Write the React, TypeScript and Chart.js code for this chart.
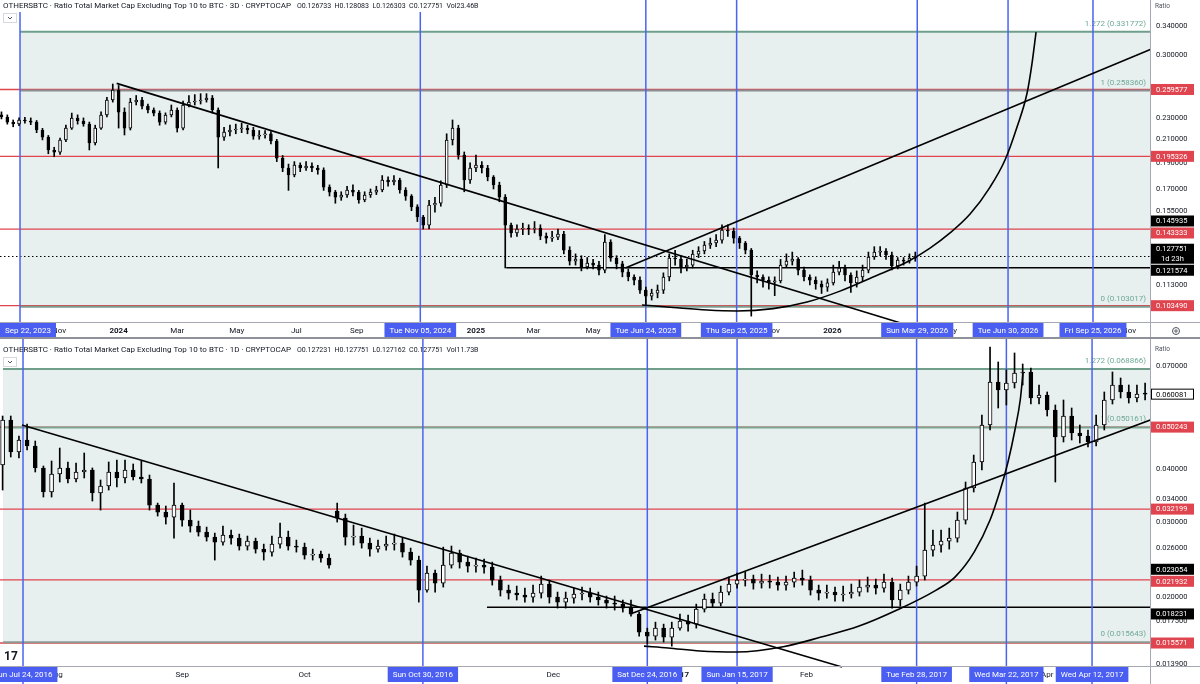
import React, { useEffect, useRef } from "react";
import { Chart, registerables } from "chart.js";

Chart.register(...registerables);

const FONT = "Roboto, 'Liberation Sans', Arial, sans-serif";
const INK = "#131722";
const RED = "#e0444e";
const BLUE_LINE = "#4b63f2";
const BLUE_TAG = "#4a5ff2";
const FIB_FILL = "#e7f0ee";
const FIB_TEXT = "#6fa996";

// ---------------- TOP PANEL (3D candles, x = days since 2024-01-01) ----------------
const TOP_TITLE = "OTHERSBTC · Ratio Total Market Cap Excluding Top 10 to BTC · 3D · CRYPTOCAP";
const TOP_OHLC = "O0.126733  H0.128083  L0.126303  C0.127751  Vol23.46B";
const TOP_FIRST_BAR_DAY = -120;
const TOP_BAR_DAYS = 6;
const topOpen = [
  .2330,.2309,.2260,.2241,.2280,.2270,.2260,.2185,.2120,.2007,
  .1989,.2094,.2203,.2299,.2270,.2241,.2067,.2203,.2329,.2482,
  .2590,.2358,.2203,.2461,.2482,.2419,.2379,.2348,.2260,.2329,
  .2379,.2203,.2430,.2461,.2472,.2482,.2503,.2379,.2120,.2166,
  .2185,.2194,.2203,.2185,.2129,.2139,.2150,.2085,.1939,.1859,
  .1804,.1882,.1859,.1874,.1859,.1843,.1714,.1678,.1642,.1657,
  .1693,.1678,.1622,.1657,.1678,.1693,.1766,.1751,.1766,.1693,
  .1649,.1575,.1509,.1458,.1588,.1600,.1729,.2094,.2203,.1964,
  .1766,.1859,.1882,.1859,.1789,.1729,.1642,.1458,.1410,.1434,
  .1440,.1434,.1440,.1391,.1379,.1385,.1404,.1311,.1251,.1262,
  .1220,.1241,.1230,.1204,.1357,.1267,.1236,.1194,.1169,.1154,
  .1106,.1078,.1092,.1106,.1169,.1267,.1262,.1220,.1230,.1289,
  .1306,.1339,.1351,.1368,.1428,.1422,.1379,.1351,.1311,.1179,
  .1169,.1154,.1144,.1150,.1230,.1251,.1262,.1204,.1169,.1154,
  .1135,.1120,.1140,.1194,.1215,.1179,.1140,.1169,.1204,.1273,
  .1300,.1306,.1284,.1225,.1257,.1251,.1267,
];
const topHigh = [
  .2360,.2330,.2280,.2300,.2305,.2300,.2275,.2200,.2135,.2030,
  .2110,.2230,.2348,.2330,.2300,.2260,.2230,.2360,.2510,.2657,
  .2640,.2400,.2500,.2530,.2510,.2440,.2400,.2370,.2350,.2430,
  .2400,.2470,.2530,.2540,.2550,.2550,.2530,.2400,.2210,.2230,
  .2240,.2250,.2230,.2210,.2180,.2180,.2170,.2100,.1960,.1890,
  .1910,.1900,.1910,.1900,.1880,.1860,.1730,.1690,.1680,.1720,
  .1730,.1690,.1680,.1700,.1720,.1800,.1790,.1800,.1780,.1710,
  .1660,.1590,.1520,.1620,.1640,.1760,.2150,.2280,.2230,.1990,
  .1900,.1964,.1910,.1880,.1800,.1750,.1660,.1470,.1460,.1470,
  .1460,.1480,.1460,.1410,.1420,.1434,.1420,.1330,.1290,.1280,
  .1270,.1260,.1250,.1400,.1370,.1280,.1250,.1210,.1180,.1170,
  .1120,.1110,.1130,.1190,.1290,.1310,.1280,.1260,.1310,.1330,
  .1360,.1380,.1400,.1460,.1460,.1440,.1390,.1360,.1320,.1200,
  .1180,.1170,.1170,.1260,.1290,.1300,.1270,.1220,.1180,.1170,
  .1150,.1160,.1230,.1250,.1230,.1190,.1200,.1230,.1300,.1330,
  .1330,.1320,.1300,.1270,.1270,.1290,.1300,
];
const topLow = [
  .2290,.2240,.2215,.2225,.2250,.2235,.2160,.2095,.1975,.1950,
  .1970,.2080,.2190,.2240,.2220,.2007,.2050,.2190,.2310,.2460,
  .2203,.2139,.2185,.2430,.2390,.2350,.2320,.2230,.2240,.2310,
  .2166,.2185,.2410,.2430,.2440,.2460,.2348,.1859,.2090,.2130,
  .2150,.2160,.2150,.2100,.2100,.2110,.2060,.1910,.1830,.1690,
  .1790,.1830,.1840,.1830,.1810,.1690,.1650,.1600,.1620,.1640,
  .1650,.1600,.1610,.1640,.1660,.1680,.1720,.1730,.1670,.1620,
  .1550,.1480,.1434,.1434,.1540,.1580,.1710,.2050,.1930,.1680,
  .1740,.1830,.1820,.1760,.1700,.1610,.1215,.1385,.1390,.1400,
  .1400,.1410,.1370,.1350,.1360,.1370,.1290,.1230,.1230,.1200,
  .1210,.1210,.1180,.1190,.1250,.1210,.1170,.1150,.1130,.1090,
  .1040,.1060,.1070,.1090,.1150,.1230,.1190,.1200,.1215,.1270,
  .1290,.1320,.1330,.1350,.1390,.1350,.1320,.1290,.0990,.1140,
  .1120,.1110,.1080,.1140,.1220,.1230,.1180,.1150,.1130,.1110,
  .1090,.1100,.1130,.1180,.1150,.1095,.1120,.1150,.1190,.1260,
  .1280,.1260,.1205,.1210,.1230,.1240,.1250,
];
const topClose = [
  .2309,.2260,.2241,.2280,.2270,.2260,.2185,.2120,.2007,.1989,
  .2094,.2203,.2299,.2270,.2241,.2067,.2203,.2329,.2482,.2590,
  .2358,.2203,.2461,.2482,.2419,.2379,.2348,.2260,.2329,.2379,
  .2203,.2430,.2461,.2472,.2482,.2503,.2379,.2120,.2166,.2185,
  .2194,.2203,.2185,.2129,.2139,.2150,.2085,.1939,.1859,.1804,
  .1882,.1859,.1874,.1859,.1843,.1714,.1678,.1642,.1657,.1693,
  .1678,.1622,.1657,.1678,.1693,.1766,.1751,.1766,.1693,.1649,
  .1575,.1509,.1458,.1588,.1600,.1729,.2094,.2203,.1964,.1766,
  .1859,.1882,.1859,.1789,.1729,.1642,.1458,.1410,.1434,.1440,
  .1434,.1440,.1391,.1379,.1385,.1404,.1311,.1251,.1262,.1220,
  .1241,.1230,.1204,.1357,.1267,.1236,.1194,.1169,.1154,.1106,
  .1078,.1092,.1106,.1169,.1267,.1262,.1220,.1230,.1289,.1306,
  .1339,.1351,.1368,.1428,.1422,.1379,.1351,.1311,.1179,.1169,
  .1154,.1144,.1150,.1230,.1251,.1262,.1204,.1169,.1154,.1135,
  .1120,.1140,.1194,.1215,.1179,.1140,.1169,.1204,.1273,.1300,
  .1306,.1284,.1225,.1257,.1251,.1267,.1278,
];
const topTickDays = [-61, 0, 60, 121, 182, 244, 305, 366, 425, 486, 547, 609, 670, 731, 790, 851, 912, 974, 1035];
const topTickLabels = ["Nov", "2024", "Mar", "May", "Jul", "Sep", "Nov", "2025", "Mar", "May", "Jul", "Sep", "Nov", "2026", "Mar", "May", "Jul", "Sep", "Nov"];
const topPriceTicks = [0.34, 0.3, 0.23, 0.21, 0.19, 0.17, 0.155, 0.14, 0.113];
const topMarkerDays = [-101, 309, 540, 633, 818, 911, 998];
const topMarkerLabels = ["Sep 22, 2023", "Tue Nov 05, 2024", "Tue Jun 24, 2025", "Thu Sep 25, 2025", "Sun Mar 29, 2026", "Tue Jun 30, 2026", "Fri Sep 25, 2026"];
const topFibLevels = [0.331772, 0.25836, 0.103017];
const topFibLabels = ["1.272 (0.331772)", "1 (0.258360)", "0 (0.103017)"];
const topFibColors = ["#6f9f8b", "#8a8d92", "#7d9b8f"];
const TOP_FIB_START_DAY = -101;
const topRedLevels = [0.259577, 0.195326, 0.143333, 0.10349];
const TOP_SUPPORT = 0.121574;
const TOP_SUPPORT_START_DAY = 397;
const TOP_LAST_PRICE = 0.127751;
const topDownTrend: [number, number][] = [[-2, 0.2664], [801, 0.0961]];
const topUpTrend: [number, number][] = [[519, 0.1215], [1060, 0.3095]];
const topArcDays = [536.1, 567.9, 602.7, 633.4, 670.3, 705.1, 738.9, 772.7, 807.5, 831.1, 851.6, 872.1, 892.6, 907.9, 920.2, 930.5, 935.6, 939.7];
const topArcValues = [0.1038, 0.1027, 0.1016, 0.1012, 0.1022, 0.1051, 0.1101, 0.1169, 0.1246, 0.1322, 0.141, 0.1528, 0.1714, 0.1923, 0.2213, 0.2557, 0.2905, 0.3314];
const topTagValues = [0.259577, 0.195326, 0.145935, 0.143333, 0.127751, 0.121574, 0.10349];
const topTagKinds = ["red", "red", "black", "red", "black", "black", "red"];
const topTagSubs = ["", "", "", "", "1d 23h", "", ""];

// ---------------- BOTTOM PANEL (1D candles shown as 2-day bars, x = days since 2016-07-24) ----------------
const BOT_TITLE = "OTHERSBTC · Ratio Total Market Cap Excluding Top 10 to BTC · 1D · CRYPTOCAP";
const BOT_OHLC = "O0.127231  H0.127751  L0.127162  C0.127751  Vol11.73B";
const BOT_FIRST_BAR_DAY = -5;
const BOT_BAR_DAYS = 2;
const botOpen = [
  .04091,.05222,.04390,.04685,.04534,.04025,.03533,.03896,.04025,.03791,
  .03938,.03981,.03514,.03650,.03938,.03812,.03981,.03833,.03791,.03291,
  .03169,.03084,.03291,.03034,.02937,.02843,.02767,.02692,.02797,.02751,
  .02635,.02707,.02592,.02550,.02663,.02767,.02635,.02620,.02509,.02523,
  .02468,.03186,.03067,.02767,.02782,.02678,.02592,.02635,.02663,.02678,
  .02550,.02442,.02075,.02275,.02155,.02376,.02536,.02415,.02363,.02376,
  .02351,.02191,.02075,.02042,.02020,.01998,.02042,.02144,.01998,.01944,
  .01987,.02031,.02042,.01998,.01966,.01934,.01923,.01892,.01822,.01652,
  .01616,.01688,.01608,.01688,.01754,.01725,.01872,.01976,.01934,.02053,
  .02144,.02191,.02203,.02155,.02179,.02167,.02132,.02167,.02215,.02191,
  .02075,.02042,.02053,.02020,.02031,.02053,.02109,.02132,.02098,.02167,
  .01966,.02075,.02167,.02239,.02578,.02649,.02707,.02751,.03034,.03610,
  .04158,.05082,.06418,.06145,.06383,.06739,.06776,.05884,.05981,.05513,
  .04761,.05336,.04866,.04787,.04634,.05082,.05820,.06314,.06079,.05884,
  .06013,
];
const botHigh = [
  .05336,.05336,.04787,.05110,.04659,.04068,.04180,.04485,.04158,.04135,
  .04366,.04025,.03771,.04158,.04203,.04203,.04113,.04180,.03874,.03327,
  .03274,.03710,.03327,.03203,.03018,.02921,.02827,.02937,.02874,.02812,
  .02782,.02751,.02663,.02782,.02985,.02858,.02722,.02678,.02592,.02564,
  .02523,.03327,.03134,.02953,.02905,.02751,.02722,.02782,.02812,.02751,
  .02606,.02495,.02363,.02313,.02620,.02635,.02578,.02495,.02468,.02455,
  .02415,.02239,.02132,.02121,.02098,.02132,.02239,.02191,.02053,.02053,
  .02098,.02109,.02098,.02053,.02009,.02009,.01966,.01966,.01842,.01688,
  .01744,.01725,.01744,.01822,.01812,.01923,.02031,.02042,.02121,.02227,
  .02275,.02288,.02251,.02263,.02251,.02227,.02239,.02288,.02313,.02239,
  .02132,.02132,.02109,.02121,.02144,.02191,.02227,.02203,.02263,.02215,
  .02144,.02239,.02363,.03327,.02874,.02874,.02905,.03169,.03730,.04318,
  .05365,.07760,.07154,.06850,.07512,.07076,.06924,.06314,.06079,.05665,
  .05820,.05573,.05082,.04946,.05365,.06079,.06776,.06559,.06314,.06314,
  .06383,
];
const botLow = [
  .03571,.04272,.04249,.04438,.03938,.03438,.03438,.03730,.03710,.03730,
  .03812,.03364,.03203,.03571,.03630,.03710,.03771,.03710,.03203,.03101,
  .02969,.02751,.02937,.02843,.02782,.02707,.02442,.02649,.02663,.02578,
  .02578,.02536,.02442,.02495,.02606,.02578,.02550,.02455,.02442,.02415,
  .02338,.03001,.02649,.02649,.02606,.02495,.02550,.02578,.02578,.02482,
  .02376,.01944,.02053,.02053,.02109,.02338,.02338,.02288,.02288,.02275,
  .02132,.02009,.01976,.01966,.01944,.01944,.01987,.01934,.01882,.01882,
  .01934,.01966,.01944,.01913,.01882,.01862,.01842,.01802,.01616,.01548,
  .01582,.01565,.01531,.01670,.01661,.01688,.01842,.01892,.01903,.02020,
  .02098,.02121,.02086,.02098,.02098,.02075,.02075,.02109,.02132,.02020,
  .01966,.01987,.01955,.01955,.01987,.02009,.02053,.02031,.02053,.01882,
  .01903,.02031,.02121,.02191,.02495,.02550,.02592,.02692,.02969,.03533,
  .03981,.04946,.05573,.05665,.06212,.06314,.05695,.05695,.05336,.03730,
  .04634,.04685,.04609,.04510,.04534,.04946,.05695,.05884,.05726,.05758,
  .05820,
];
const botClose = [
  .05222,.04390,.04685,.04534,.04025,.03533,.03896,.04025,.03791,.03938,
  .03981,.03514,.03650,.03938,.03812,.03981,.03833,.03791,.03291,.03169,
  .03084,.03291,.03034,.02937,.02843,.02767,.02692,.02797,.02751,.02635,
  .02707,.02592,.02550,.02663,.02767,.02635,.02620,.02509,.02523,.02468,
  .02376,.03067,.02767,.02782,.02678,.02592,.02635,.02663,.02678,.02550,
  .02442,.02075,.02275,.02155,.02376,.02536,.02415,.02363,.02376,.02351,
  .02191,.02075,.02042,.02020,.01998,.02042,.02144,.01998,.01944,.01987,
  .02031,.02042,.01998,.01966,.01934,.01923,.01882,.01822,.01652,.01616,
  .01688,.01608,.01688,.01754,.01725,.01872,.01976,.01934,.02053,.02144,
  .02191,.02203,.02155,.02179,.02167,.02132,.02167,.02215,.02191,.02075,
  .02042,.02053,.02020,.02031,.02053,.02109,.02132,.02098,.02167,.01966,
  .02075,.02167,.02239,.02578,.02649,.02707,.02751,.03034,.03610,.04158,
  .05082,.06418,.06145,.06383,.06739,.06776,.05884,.05981,.05513,.04761,
  .05336,.04866,.04787,.04634,.05082,.05820,.06314,.06079,.05884,.06013,
  .06008,
];
const botTickDays = [8, 39, 69, 100, 130, 161, 192, 220, 251];
const botTickLabels = ["Aug", "Sep", "Oct", "Nov", "Dec", "2017", "Feb", "Mar", "Apr"];
const botPriceTicks = [0.07, 0.04, 0.034, 0.03, 0.026, 0.02, 0.0175, 0.0139];
const botMarkerDays = [0, 98, 153, 175, 219, 241, 262];
const botMarkerLabels = ["Sun Jul 24, 2016", "Sun Oct 30, 2016", "Sat Dec 24, 2016", "Sun Jan 15, 2017", "Tue Feb 28, 2017", "Wed Mar 22, 2017", "Wed Apr 12, 2017"];
const botFibLevels = [0.068866, 0.050161, 0.015643];
const botFibLabels = ["1.272 (0.068866)", "1 (0.050161)", "0 (0.015643)"];
const botFibColors = ["#6f9f8b", "#7aa590", "#8c9a95"];
const BOT_FIB_START_DAY = -4.9;
const botRedLevels = [0.050243, 0.032199, 0.021932, 0.015571];
const BOT_SUPPORT = 0.0189;
const BOT_SUPPORT_START_DAY = 113.7;
const botDownTrend: [number, number][] = [[-0.25, 0.05082], [200.7, 0.01367]];
const botUpTrend: [number, number][] = [[149.5, 0.01832], [276.5, 0.0523]];
const botArcDays = [152.2, 158.1, 165.9, 175.0, 186.3, 195.6, 204.9, 214.2, 223.8, 228.4, 233.1, 237.0, 239.5, 241.4, 243.1, 244.4, 245.1];
const botArcValues = [0.01531, 0.01516, 0.01491, 0.01483, 0.01526, 0.01608, 0.01707, 0.01862, 0.02075, 0.02227, 0.0255, 0.03034, 0.03571, 0.04158, 0.04946, 0.0582, 0.06776];
const botTagValues = [0.060081, 0.050243, 0.032199, 0.023054, 0.021932, 0.018231, 0.015571];
const botTagKinds = ["last", "red", "red", "black", "red", "black", "red"];
const botTagSubs = ["", "", "", "", "", "", ""];

type Panel = {
  title: string; ohlc: string; titleY: number; chevronY: number; ratioY: number; headerBg: boolean;
  firstBarDay: number; barDays: number;
  open: number[]; high: number[]; low: number[]; close: number[];
  xMin: number; xMax: number; yMin: number; yMax: number;
  tickDays: number[]; tickLabels: string[]; priceTicks: number[];
  markerDays: number[]; markerLabels: string[]; clampMarker: boolean;
  fibStart: number; fibLevels: number[]; fibLabels: string[]; fibColors: string[];
  redLevels: number[]; support: number; supportStart: number; lastPrice: number | null;
  trends: [number, number][][]; arcDays: number[]; arcValues: number[];
  tagValues: number[]; tagKinds: string[]; tagSubs: string[];
  bodyWidth: number; padTop: number; axisH: number; bottomRule: boolean; logo: boolean; gear: boolean;
};

const TOP: Panel = {
  title: TOP_TITLE, ohlc: TOP_OHLC, titleY: 6, chevronY: 13, ratioY: 6, headerBg: true,
  firstBarDay: TOP_FIRST_BAR_DAY, barDays: TOP_BAR_DAYS,
  open: topOpen, high: topHigh, low: topLow, close: topClose,
  xMin: -121.5, xMax: 1056.4, yMin: 0.09655, yMax: 0.3798,
  tickDays: topTickDays, tickLabels: topTickLabels, priceTicks: topPriceTicks,
  markerDays: topMarkerDays, markerLabels: topMarkerLabels, clampMarker: true,
  fibStart: TOP_FIB_START_DAY, fibLevels: topFibLevels, fibLabels: topFibLabels, fibColors: topFibColors,
  redLevels: topRedLevels, support: TOP_SUPPORT, supportStart: TOP_SUPPORT_START_DAY, lastPrice: TOP_LAST_PRICE,
  trends: [topDownTrend, topUpTrend], arcDays: topArcDays, arcValues: topArcValues,
  tagValues: topTagValues, tagKinds: topTagKinds, tagSubs: topTagSubs,
  bodyWidth: 3, padTop: 0, axisH: 17, bottomRule: true, logo: false, gear: true,
};

const BOT: Panel = {
  title: BOT_TITLE, ohlc: BOT_OHLC, titleY: 11, chevronY: 18, ratioY: 10, headerBg: false,
  firstBarDay: BOT_FIRST_BAR_DAY, barDays: BOT_BAR_DAYS,
  open: botOpen, high: botHigh, low: botLow, close: botClose,
  xMin: -5.64, xMax: 276.2, yMin: 0.013745, yMax: 0.0806,
  tickDays: botTickDays, tickLabels: botTickLabels, priceTicks: botPriceTicks,
  markerDays: botMarkerDays, markerLabels: botMarkerLabels, clampMarker: false,
  fibStart: BOT_FIB_START_DAY, fibLevels: botFibLevels, fibLabels: botFibLabels, fibColors: botFibColors,
  redLevels: botRedLevels, support: BOT_SUPPORT, supportStart: BOT_SUPPORT_START_DAY, lastPrice: null,
  trends: [botDownTrend, botUpTrend], arcDays: botArcDays, arcValues: botArcValues,
  tagValues: botTagValues, tagKinds: botTagKinds, tagSubs: botTagSubs,
  bodyWidth: 4, padTop: 1, axisH: 18, bottomRule: false, logo: true, gear: false,
};

function hline(ctx: CanvasRenderingContext2D, x1: number, x2: number, y: number, color: string, w: number) {
  ctx.beginPath();
  ctx.strokeStyle = color;
  ctx.lineWidth = w;
  ctx.moveTo(x1, y);
  ctx.lineTo(x2, y);
  ctx.stroke();
}

function makePlugin(p: Panel) {
  return {
    id: "panelDecor",
    beforeDatasetsDraw(chart: any) {
      const { ctx, chartArea: a } = chart;
      const X = (d: number) => chart.scales.x.getPixelForValue(d);
      const Y = (v: number) => chart.scales.y.getPixelForValue(v);
      ctx.save();
      const fx = Math.max(a.left, X(p.fibStart));
      const fTop = Y(p.fibLevels[0]);
      const fBot = Y(p.fibLevels[p.fibLevels.length - 1]);
      ctx.fillStyle = FIB_FILL;
      ctx.fillRect(fx, fTop, a.right - fx, fBot - fTop);
      p.redLevels.forEach((v) => hline(ctx, a.left, a.right, Y(v), RED, 1.3));
      p.fibLevels.forEach((v, i) => hline(ctx, fx, a.right, Y(v), p.fibColors[i], 2));
      ctx.font = `8px ${FONT}`;
      ctx.textAlign = "right";
      ctx.textBaseline = "middle";
      ctx.fillStyle = FIB_TEXT;
      p.fibLevels.forEach((v, i) => ctx.fillText(p.fibLabels[i], a.right - 4, Y(v) - 8));
      hline(ctx, X(p.supportStart), a.right, Y(p.support), "#000", 1.6);
      if (p.lastPrice !== null) {
        ctx.setLineDash([1.5, 2.5]);
        hline(ctx, a.left, a.right, Math.round(Y(p.lastPrice)) + 0.5, "#000", 1);
        ctx.setLineDash([]);
      }
      ctx.strokeStyle = BLUE_LINE;
      ctx.lineWidth = 1.5;
      p.markerDays.forEach((d) => {
        const x = X(d);
        ctx.beginPath();
        ctx.moveTo(x, 0);
        ctx.lineTo(x, chart.height);
        ctx.stroke();
      });
      ctx.restore();
    },
    afterDraw(chart: any) {
      const { ctx, chartArea: a } = chart;
      const W = chart.width;
      const H = chart.height;
      const X = (d: number) => chart.scales.x.getPixelForValue(d);
      const Y = (v: number) => chart.scales.y.getPixelForValue(v);
      ctx.save();
      ctx.fillStyle = "#a5a8b0";
      ctx.fillRect(0, a.bottom, W, 1);
      ctx.fillRect(a.right, 0, 1, H);
      if (p.headerBg) {
        ctx.fillStyle = "#ffffff";
        ctx.fillRect(0, 0, 485, 12);
      }
      ctx.textAlign = "left";
      ctx.textBaseline = "middle";
      ctx.fillStyle = INK;
      ctx.font = `8px ${FONT}`;
      ctx.fillText(p.title, 3, p.titleY);
      const tw = ctx.measureText(p.title).width;
      ctx.font = `7px ${FONT}`;
      ctx.fillText(p.ohlc, 3 + tw + 6, p.titleY);
      ctx.fillStyle = "#ffffff";
      ctx.strokeStyle = "#d6d8de";
      ctx.lineWidth = 1;
      ctx.fillRect(3.5, p.chevronY + 0.5, 13, 9);
      ctx.strokeRect(3.5, p.chevronY + 0.5, 13, 9);
      ctx.beginPath();
      ctx.strokeStyle = "#50535e";
      ctx.moveTo(8, p.chevronY + 4);
      ctx.lineTo(10, p.chevronY + 6);
      ctx.lineTo(12, p.chevronY + 4);
      ctx.stroke();
      ctx.fillStyle = "#50535e";
      ctx.font = `6.5px ${FONT}`;
      ctx.fillText("Ratio", a.right + 5, p.ratioY);
      ctx.font = `8px ${FONT}`;
      ctx.textAlign = "center";
      p.markerDays.forEach((d, i) => {
        const label = p.markerLabels[i];
        const w = ctx.measureText(label).width + 10;
        let left = X(d) - w / 2;
        if (p.clampMarker && left < 0) left = 0;
        ctx.fillStyle = BLUE_TAG;
        ctx.fillRect(left, a.bottom + 1, w, 15);
        ctx.fillStyle = "#ffffff";
        ctx.fillText(label, left + w / 2, a.bottom + 8.5);
      });
      const items = p.tagValues.map((v, i) => ({ v, kind: p.tagKinds[i], sub: p.tagSubs[i], y: Y(v), h: p.tagSubs[i] ? 20 : 11 }));
      const sorted = items.slice().sort((m, n) => m.y - n.y);
      for (let it = 0; it < 60; it++) {
        let moved = false;
        for (let i = 0; i < sorted.length - 1; i++) {
          const m = sorted[i];
          const n = sorted[i + 1];
          const need = (m.h + n.h) / 2 + 1;
          const gap = n.y - m.y;
          if (gap < need - 0.01) {
            const dd = (need - gap) / 2;
            m.y -= dd;
            n.y += dd;
            moved = true;
          }
        }
        if (!moved) break;
      }
      ctx.font = `7.5px ${FONT}`;
      items.forEach((t) => {
        const x0 = a.right + 1;
        const w = 43;
        const bg = t.kind === "red" ? RED : t.kind === "black" ? "#000000" : "#ffffff";
        ctx.fillStyle = bg;
        ctx.fillRect(x0, t.y - t.h / 2, w, t.h);
        if (t.kind === "last") {
          ctx.strokeStyle = "#000000";
          ctx.lineWidth = 1;
          ctx.strokeRect(x0 + 0.5, t.y - t.h / 2 + 0.5, w - 1, t.h - 1);
        }
        ctx.fillStyle = t.kind === "last" ? "#000000" : "#ffffff";
        if (t.sub) {
          ctx.textAlign = "left";
          ctx.fillText(t.v.toFixed(6), a.right + 6, t.y - 4.5);
          ctx.textAlign = "center";
          ctx.fillText(t.sub, x0 + w / 2, t.y + 5);
        } else {
          ctx.textAlign = "left";
          ctx.fillText(t.v.toFixed(6), a.right + 6, t.y + 0.5);
        }
      });
      if (p.bottomRule) {
        ctx.fillStyle = "#8e9199";
        ctx.fillRect(0, H - 2, W, 2);
      }
      if (p.gear) {
        ctx.strokeStyle = "#50535e";
        ctx.lineWidth = 1;
        ctx.beginPath();
        ctx.arc(1176, a.bottom + 9, 3.5, 0, Math.PI * 2);
        ctx.stroke();
        ctx.beginPath();
        ctx.arc(1176, a.bottom + 9, 1.2, 0, Math.PI * 2);
        ctx.stroke();
      }
      if (p.logo) {
        ctx.fillStyle = "#131722";
        ctx.font = `bold 12px ${FONT}`;
        ctx.textAlign = "left";
        ctx.fillText("17", 4, a.bottom - 9);
      }
      ctx.restore();
    },
  };
}

function makePanel(canvas: HTMLCanvasElement, p: Panel) {
  const days = p.close.map((_, i) => p.firstBarDay + i * p.barDays);
  const wickData = days.map((d, i) => ({ x: d, y: [p.low[i], p.high[i]] }));
  const bodyData = days.map((d, i) => ({ x: d, y: [p.open[i], p.close[i]] }));
  const bodyFill = days.map((_, i) => (p.close[i] >= p.open[i] ? "#ffffff" : "#000000"));
  const tickLabel = new Map<number, string>(p.tickDays.map((d, i) => [d, p.tickLabels[i]]));
  const datasets: any[] = [
    { type: "bar", data: wickData, backgroundColor: "#000000", borderWidth: 0, barThickness: 1, grouped: false, order: 3 },
    { type: "bar", data: bodyData, backgroundColor: bodyFill, borderColor: "#000000", borderWidth: 1, borderSkipped: false, barThickness: p.bodyWidth, grouped: false, order: 2, minBarLength: 1 },
  ];
  p.trends.forEach((t) =>
    datasets.push({
      type: "line",
      data: t.map(([x, y]) => ({ x, y })),
      borderColor: "#000000",
      borderWidth: 1.6,
      pointRadius: 0,
      tension: 0,
      order: 1,
      clip: { left: 0, top: 0, right: 0, bottom: 5 },
    })
  );
  datasets.push({
    type: "line",
    data: p.arcDays.map((x, i) => ({ x, y: p.arcValues[i] })),
    borderColor: "#000000",
    borderWidth: 1.6,
    pointRadius: 0,
    cubicInterpolationMode: "monotone",
    order: 1,
  });
  return new Chart(canvas, {
    type: "bar",
    data: { datasets },
    options: {
      responsive: false,
      animation: false,
      devicePixelRatio: 1,
      events: [],
      layout: { padding: { top: p.padTop, left: 0, right: 0, bottom: 0 } },
      plugins: { legend: { display: false }, tooltip: { enabled: false } },
      scales: {
        x: {
          type: "linear",
          min: p.xMin,
          max: p.xMax,
          bounds: "data",
          offset: false,
          grid: { display: false, drawTicks: false, offset: false },
          border: { display: false },
          ticks: {
            autoSkip: false,
            maxRotation: 0,
            minRotation: 0,
            padding: 4,
            color: INK,
            font: (c: any) => ({
              family: FONT,
              size: 8,
              weight: /^\d{4}$/.test(tickLabel.get(c.tick ? c.tick.value : NaN) || "") ? "bold" : "normal",
            }),
            callback: (v: any) => tickLabel.get(Number(v)) || "",
          },
          afterBuildTicks: (s: any) => {
            s.ticks = p.tickDays.map((v) => ({ value: v }));
          },
          afterFit: (s: any) => {
            s.height = p.axisH;
            s.paddingLeft = 0;
            s.paddingRight = 0;
          },
        },
        y: {
          type: "logarithmic",
          position: "right",
          min: p.yMin,
          max: p.yMax,
          bounds: "data",
          grid: { display: false, drawTicks: false },
          border: { display: false },
          ticks: {
            autoSkip: false,
            padding: 6,
            color: INK,
            font: { family: FONT, size: 7.5 },
            callback: (v: any) => Number(v).toFixed(6),
          },
          afterBuildTicks: (s: any) => {
            s.ticks = p.priceTicks.map((v) => ({ value: v }));
          },
          afterFit: (s: any) => {
            s.width = 50;
            s.paddingTop = 0;
            s.paddingBottom = 0;
          },
        },
      },
    } as any,
    plugins: [makePlugin(p)],
  } as any);
}

export default function App() {
  const topRef = useRef<HTMLCanvasElement>(null);
  const botRef = useRef<HTMLCanvasElement>(null);
  useEffect(() => {
    document.body.style.margin = "0";
    const c1 = makePanel(topRef.current as HTMLCanvasElement, TOP);
    const c2 = makePanel(botRef.current as HTMLCanvasElement, BOT);
    return () => {
      c1.destroy();
      c2.destroy();
    };
  }, []);
  return (
    <div style={{ position: "absolute", left: 0, top: 0, width: 1200, height: 684, background: "#ffffff", overflow: "hidden" }}>
      <canvas ref={topRef} width={1200} height={339} style={{ display: "block", width: 1200, height: 339 }} />
      <canvas ref={botRef} width={1200} height={345} style={{ display: "block", width: 1200, height: 345 }} />
    </div>
  );
}
